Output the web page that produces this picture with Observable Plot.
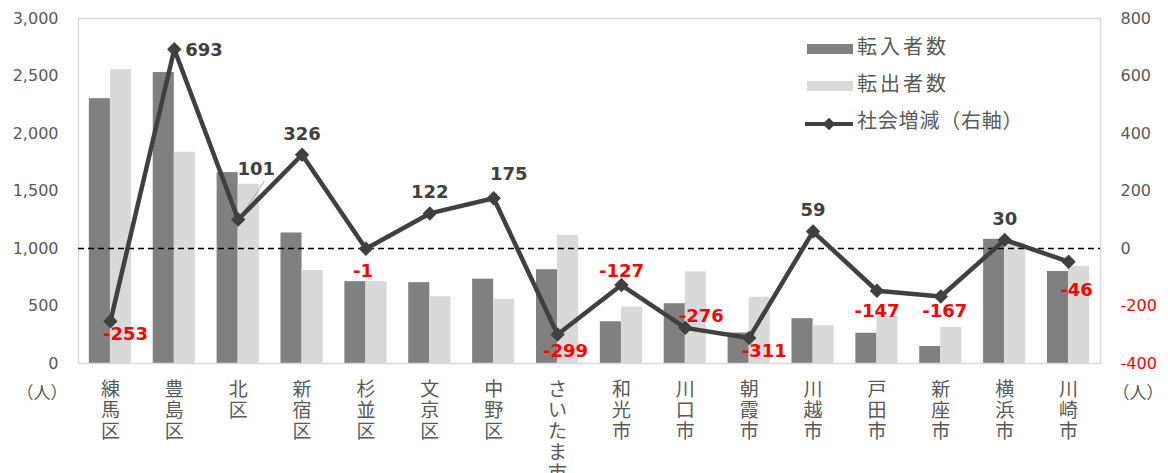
<!DOCTYPE html>
<html>
<head>
<meta charset="utf-8">
<script src="https://cdn.jsdelivr.net/npm/d3@7"></script>
<script src="https://cdn.jsdelivr.net/npm/@observablehq/plot@0.6"></script>
<style>
  html, body { margin: 0; padding: 0; background: #fff; }
  #chart { width: 1168px; height: 473px; }
</style>
</head>
<body>
<div id="chart"></div>
<script>
// ---- data ----
const categories = ["練馬区","豊島区","北区","新宿区","杉並区","文京区","中野区","さいたま市","和光市","川口市","朝霞市","川越市","戸田市","新座市","横浜市","川崎市"];
const inflow  = [2303, 2530, 1660, 1135, 712, 703, 733, 815, 363, 520, 265, 390, 263, 148, 1080, 800];
const outflow = [2556, 1837, 1559, 809, 713, 581, 558, 1114, 490, 796, 576, 331, 410, 315, 1050, 846];
const netChange = [-253, 693, 101, 326, -1, 122, 175, -299, -127, -276, -311, 59, -147, -167, 30, -46];
const leftTicks = [0, 500, 1000, 1500, 2000, 2500, 3000];
const rightTicks = [-400, -200, 0, 200, 400, 600, 800];
const seriesNames = ["転入者数", "転出者数", "社会増減（右軸）"];
const unitLabel = "（人）";
// label placement names (style, not data)
const labelPlacement = ["below-right","right","leader","above","below-left","above","above-right","below","above-close","right-up","below-right","above","below-center","below-close","above","below-far"];

// ---- styles ----
const W = 1168, H = 473, mL = 78, mR = 68, mT = 18, mB = 110;
const darkBar = "#808080", lightBar = "#d9d9d9", lineColor = "#404040", axisColor = "#595959";
const numFont = "'DejaVu Sans', 'Noto Sans CJK JP', sans-serif";
const cjkFont = "'Noto Sans CJK JP', 'DejaVu Sans', sans-serif";
const paddingInner = 0.34, paddingOuter = 0.17;
const step = (W - mL - mR) / categories.length;
const halfBand = step * (1 - paddingInner) / 2;

const offsets = {
  "above": {dx: 0, dy: -21, anchor: "middle"},
  "above-close": {dx: 0, dy: -14, anchor: "middle"},
  "below": {dx: 8, dy: 17, anchor: "middle"},
  "below-left": {dx: -3, dy: 22, anchor: "middle"},
  "below-center": {dx: 0, dy: 20, anchor: "middle"},
  "below-close": {dx: 4, dy: 15, anchor: "middle"},
  "below-far": {dx: 8, dy: 29, anchor: "middle"},
  "right": {dx: 11, dy: 1, anchor: "start"},
  "above-right": {dx: 15, dy: -24, anchor: "middle"},
  "right-up": {dx: 16, dy: -12, anchor: "middle"},
  "below-right": {dx: 15, dy: 13, anchor: "middle"},
  "leader": {dx: 18, dy: -50, anchor: "middle"}
};

// right axis (-400..800) mapped onto left axis (0..3000)
const toLeft = v => (v - rightTicks[0]) * (leftTicks[leftTicks.length-1] - leftTicks[0]) / (rightTicks[rightTicks.length-1] - rightTicks[0]);
const fromLeft = y => Math.round(y * (rightTicks[rightTicks.length-1] - rightTicks[0]) / (leftTicks[leftTicks.length-1] - leftTicks[0]) + rightTicks[0]);

const data = categories.map((c, i) => ({category: c, inflow: inflow[i], outflow: outflow[i], net: netChange[i], place: labelPlacement[i]}));

const labelMarks = Object.entries(offsets).map(([name, o]) =>
  Plot.text(data.filter(d => d.place === name), {
    x: "category", y: d => toLeft(d.net), text: d => String(d.net),
    fill: d => d.net < 0 ? "#ff0000" : lineColor,
    fontWeight: "bold", fontSize: 18, fontFamily: numFont,
    dx: o.dx, dy: o.dy, textAnchor: o.anchor
  })
);

const chart = Plot.plot({
  width: W, height: H,
  marginTop: mT, marginBottom: mB, marginLeft: mL, marginRight: mR,
  style: {fontFamily: numFont, fontSize: "16px", color: axisColor, background: "#fff"},
  x: {domain: categories, paddingInner, paddingOuter, round: false, label: null},
  y: {domain: [leftTicks[0], leftTicks[leftTicks.length-1]], label: null},
  marks: [
    Plot.barY(data, {x: "category", y: "inflow", fill: darkBar, insetRight: halfBand}),
    Plot.barY(data, {x: "category", y: "outflow", fill: lightBar, insetLeft: halfBand}),
    Plot.frame({stroke: "#d9d9d9", strokeWidth: 1.5}),
    Plot.ruleY([toLeft(0)], {stroke: "#000", strokeWidth: 1.6, strokeDasharray: "6,4"}),
    // leader line for 北区 label
    Plot.dot(data.filter(d => d.place === "leader"), {
      x: "category", y: d => toLeft(d.net), r: 1, stroke: "#a6a6a6",
      render: (index, scales, values, dims, ctx, next) => {
        const g = next(index, scales, values, dims, ctx);
        const sel = d3.select(g);
        sel.selectAll("*").remove();
        for (const i of index) {
          const x = values.x[i], y = values.y[i];
          sel.append("path").attr("d", `M${x+3},${y-4}L${x+26},${y-38}`).attr("stroke", "#a6a6a6").attr("stroke-width", 1).attr("fill", "none");
        }
        return g;
      }
    }),
    Plot.line(data, {x: "category", y: d => toLeft(d.net), stroke: lineColor, strokeWidth: 4.5, strokeLinejoin: "miter"}),
    Plot.dot(data, {x: "category", y: d => toLeft(d.net), symbol: "diamond2", r: 6.5, fill: lineColor}),
    ...labelMarks,
    Plot.axisY(leftTicks, {anchor: "left", tickSize: 0, tickPadding: 20, tickFormat: d3.format(","), fill: axisColor, fontSize: 16, label: null}),
    Plot.axisY(rightTicks.filter(v => v >= 0).map(toLeft), {anchor: "right", tickSize: 0, tickPadding: 20, tickFormat: d => String(fromLeft(d)), fill: axisColor, fontSize: 16, label: null}),
    Plot.axisY(rightTicks.filter(v => v < 0).map(toLeft), {anchor: "right", tickSize: 0, tickPadding: 20, tickFormat: d => String(fromLeft(d)), fill: "#ff0000", fontSize: 16, label: null}),
    Plot.axisX({tickSize: 0, tickPadding: 18, tickFormat: d => d.split("").join("\n"), lineHeight: 1.1, fontSize: 19, fontFamily: cjkFont, fill: axisColor, label: null})
  ]
});

document.getElementById("chart").appendChild(chart);

// ---- unit labels and legend ----
const svg = d3.select(chart);
svg.append("text").attr("x", 42).attr("y", 394).attr("text-anchor", "middle").attr("dominant-baseline", "middle")
  .attr("font-family", cjkFont).attr("font-size", 17).attr("fill", axisColor).text(unitLabel);
svg.append("text").attr("x", 1138).attr("y", 394).attr("text-anchor", "middle").attr("dominant-baseline", "middle")
  .attr("font-family", cjkFont).attr("font-size", 17).attr("fill", axisColor).text(unitLabel);

const lg = svg.append("g").attr("font-family", cjkFont).attr("font-size", 20).attr("fill", axisColor).attr("text-anchor", "start");
lg.append("rect").attr("x", 807).attr("y", 44).attr("width", 46).attr("height", 10).attr("fill", darkBar);
lg.append("text").attr("x", 857).attr("y", 49).attr("dominant-baseline", "middle").attr("letter-spacing", 3).text(seriesNames[0]);
lg.append("rect").attr("x", 807).attr("y", 81).attr("width", 46).attr("height", 10).attr("fill", lightBar);
lg.append("text").attr("x", 857).attr("y", 86).attr("dominant-baseline", "middle").attr("letter-spacing", 3).text(seriesNames[1]);
lg.append("line").attr("x1", 805).attr("x2", 853).attr("y1", 124).attr("y2", 124).attr("stroke", lineColor).attr("stroke-width", 4);
lg.append("path").attr("d", d3.symbol(d3.symbolDiamond2, 100)()).attr("transform", "translate(829,124)").attr("fill", lineColor);
lg.append("text").attr("x", 857).attr("y", 123).attr("dominant-baseline", "middle").attr("letter-spacing", 0.8).text(seriesNames[2]);
</script>
</body>
</html>
